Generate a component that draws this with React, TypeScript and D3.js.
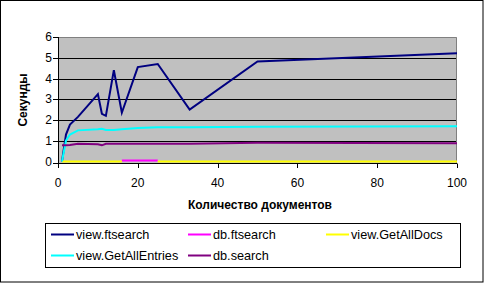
import React from "react";
import * as d3 from "d3";

const xValues = [1, 2, 3, 5, 10, 11, 12, 14, 16, 20, 25, 33, 50, 100];
const viewFtsearch = [0, 1.3, 1.78, 2.15, 3.25, 2.3, 2.2, 4.4, 2.35, 4.55, 4.7, 2.5, 4.82, 5.22];
const dbFtsearch: (number | null)[] = [null, null, null, null, null, null, null, null, 0.05, 0.05, 0.05, null, null, null];
const viewGetAllDocs: (number | null)[] = [0, 0, 0, 0, 0, 0, 0, 0, 0, null, 0, 0, 0, 0];
const viewGetAllEntries = [0, 1.0, 1.3, 1.5, 1.55, 1.58, 1.52, 1.52, 1.55, 1.62, 1.65, 1.65, 1.68, 1.7];
const dbSearch = [0.78, 0.78, 0.8, 0.85, 0.83, 0.78, 0.85, 0.85, 0.85, 0.85, 0.85, 0.85, 0.9, 0.88];

const xTicks = [0, 20, 40, 60, 80, 100];
const yTicks = [0, 1, 2, 3, 4, 5, 6];

const seriesNames = ["view.ftsearch", "db.ftsearch", "view.GetAllDocs", "view.GetAllEntries", "db.search"];
const seriesColors = ["#000080", "#FF00FF", "#FFFF00", "#00FFFF", "#800080"];
const seriesData = [viewFtsearch, dbFtsearch, viewGetAllDocs, viewGetAllEntries, dbSearch];

const xAxisTitle = "Количество документов";
const yAxisTitle = "Секунды";

export default function App() {
  const W = 484;
  const H = 283;
  const x = d3.scaleLinear().domain([0, 100]).range([58, 457]);
  const y = d3.scaleLinear().domain([0, 6]).range([161.5, 37]);
  const font = "Arial, 'Liberation Sans', sans-serif";

  const line = d3
    .line<number | null>()
    .defined((d) => d !== null)
    .x((_, i) => x(xValues[i]))
    .y((d) => y(d as number));

  const legendPos = [
    { lx: 51, ly: 234.5 },
    { lx: 188, ly: 234.5 },
    { lx: 326, ly: 234.5 },
    { lx: 51, ly: 255.5 },
    { lx: 188, ly: 255.5 },
  ];

  const axisY = 163.5;

  return (
    <svg
      width={W}
      height={H}
      style={{ position: "absolute", left: 0, top: 0, background: "#fff" }}
      fontFamily={font}
    >
      <rect x={0.5} y={0.5} width={W - 1.5} height={H - 1.5} fill="#fff" stroke="#000" />
      {/* plot area */}
      <rect x={x(0)} y={y(6)} width={x(100) - x(0)} height={axisY - y(6)} fill="#C0C0C0" />
      {yTicks.slice(1, -1).map((t) => (
        <line key={t} x1={x(0)} x2={x(100)} y1={Math.round(y(t)) + 0.5} y2={Math.round(y(t)) + 0.5} stroke="#000" />
      ))}
      <path
        d={`M${x(0)},${Math.round(y(6)) + 0.5}H${x(100) - 0.5}V${axisY}`}
        fill="none"
        stroke="#808080"
      />
      {/* axes */}
      <line x1={x(0) + 0.5} x2={x(0) + 0.5} y1={y(6)} y2={axisY + 0.5} stroke="#000" />
      <line x1={x(0) - 5} x2={x(100)} y1={axisY} y2={axisY} stroke="#000" />
      {yTicks.map((t) => (
        <g key={t}>
          <line
            x1={x(0) - 5}
            x2={x(0)}
            y1={t === 0 ? axisY : Math.round(y(t)) + 0.5}
            y2={t === 0 ? axisY : Math.round(y(t)) + 0.5}
            stroke="#000"
          />
          <text x={52} y={y(t) + 4.2} fontSize={12} textAnchor="end">
            {t}
          </text>
        </g>
      ))}
      {xTicks.map((t) => (
        <g key={t}>
          <line x1={Math.round(x(t)) + 0.5} x2={Math.round(x(t)) + 0.5} y1={axisY} y2={axisY + 4.5} stroke="#000" />
          <text x={x(t)} y={187} fontSize={12} textAnchor="middle">
            {t}
          </text>
        </g>
      ))}
      {/* series */}
      {seriesData.map((data, i) => (
        <path
          key={i}
          d={line(data as (number | null)[]) || ""}
          fill="none"
          stroke={seriesColors[i]}
          strokeWidth={2}
          strokeLinejoin="miter"
        />
      ))}
      <text x={260} y={208.5} fontSize={12} fontWeight="bold" textAnchor="middle">
        {xAxisTitle}
      </text>
      <text transform={`translate(27,100) rotate(-90)`} fontSize={12} fontWeight="bold" textAnchor="middle">
        {yAxisTitle}
      </text>
      {/* legend */}
      <rect x={45.5} y={223.5} width={415} height={44} fill="#fff" stroke="#000" />
      {seriesNames.map((name, i) => (
        <g key={name}>
          <line
            x1={legendPos[i].lx}
            x2={legendPos[i].lx + 23}
            y1={legendPos[i].ly}
            y2={legendPos[i].ly}
            stroke={seriesColors[i]}
            strokeWidth={2}
          />
          <text x={legendPos[i].lx + 25} y={legendPos[i].ly + 4.6} fontSize={12.7}>
            {name}
          </text>
        </g>
      ))}
    </svg>
  );
}
